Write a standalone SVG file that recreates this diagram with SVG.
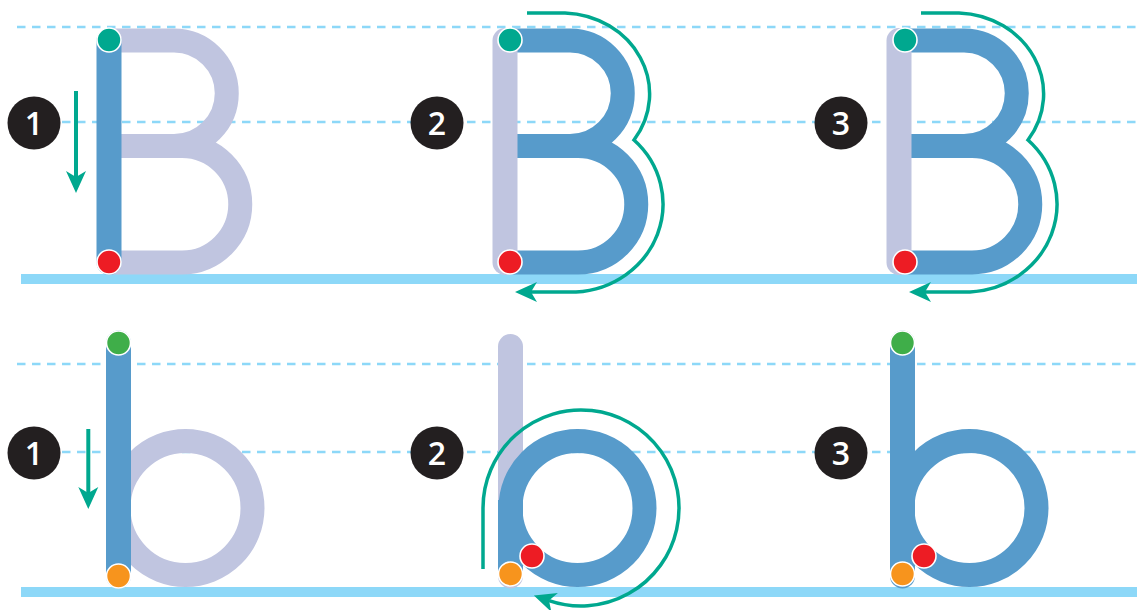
<svg xmlns="http://www.w3.org/2000/svg" width="1137" height="610" viewBox="0 0 1137 610">
<style>
.dash{stroke:#8DD8F8;stroke-width:2.7;stroke-dasharray:8.5 6.5;fill:none}
.base{fill:#8DD8F8}
.lav{stroke:#C0C5E0;fill:none;stroke-width:24}
.blu{stroke:#579BCB;fill:none;stroke-width:24}
.stem{stroke-width:25;stroke-linecap:round}
.arr{stroke:#00A88F;fill:none;stroke-width:3.5;marker-end:url(#ah)}
.arrs{stroke:#00A88F;fill:none;stroke-width:4;marker-end:url(#ah)}
.dot{stroke:#fff;stroke-width:1.6}
.teal{fill:#00A88F}.grn{fill:#3FAE49}.red{fill:#ED1C24}.org{fill:#F7941D}
.badge circle{fill:#231F20}
.badge text{fill:#fff;font-family:"Open Sans","Liberation Sans",sans-serif;font-weight:600;font-size:32px;text-anchor:middle}
</style>
<defs>
<marker id="ah" markerUnits="userSpaceOnUse" markerWidth="24" markerHeight="22" refX="6" refY="10" orient="auto" overflow="visible">
<path d="M0,0 L22,10 L0,20 L6,10 Z" fill="#00A88F"/>
</marker>
<path id="bowls" d="M109,40.5 H174 A52.75,52.75 0 0 1 174,146 H109 M109,146 H182 A58.25,58.25 0 0 1 182,262.5 H109"/>
</defs>

<g id="guides">
<line class="dash" x1="17" y1="27" x2="1137" y2="27"/>
<line class="dash" x1="17" y1="122" x2="1137" y2="122"/>
<rect class="base" x="21" y="274" width="1116" height="10"/>
<line class="dash" x1="17" y1="364" x2="1137" y2="364"/>
<line class="dash" x1="17" y1="452" x2="1137" y2="452"/>
<rect class="base" x="21" y="587" width="1116" height="10"/>
</g>

<g id="B1">
<use href="#bowls" class="lav"/>
<line class="blu stem" x1="109" y1="40.5" x2="109" y2="262.5"/>
<circle class="dot teal" cx="109" cy="40" r="12"/>
<circle class="dot red" cx="109" cy="262" r="12"/>
</g>

<g id="B2">
<use href="#bowls" class="blu" transform="translate(396,0)"/>
<line class="lav stem" x1="505" y1="40.5" x2="505" y2="262.5"/>
<circle class="dot teal" cx="510" cy="40" r="12"/>
<circle class="dot red" cx="510" cy="262" r="12"/>
</g>

<g id="B3">
<use href="#bowls" class="blu" transform="translate(790,0)"/>
<line class="lav stem" x1="899" y1="40.5" x2="899" y2="262.5"/>
<circle class="dot teal" cx="905" cy="40" r="12"/>
<circle class="dot red" cx="905" cy="262" r="12"/>
</g>

<g id="b1">
<circle class="lav" cx="185.5" cy="508" r="67"/>
<line class="blu stem" x1="118.5" y1="343" x2="118.5" y2="576"/>
<circle class="dot grn" cx="118.5" cy="343" r="12"/>
<circle class="dot org" cx="118.5" cy="576" r="12"/>
</g>

<g id="b2">
<line class="lav stem" x1="510.5" y1="346.5" x2="510.5" y2="576"/>
<circle class="blu" cx="577.5" cy="508" r="67"/>
<path class="blu" d="M510.5,576 V500" style="stroke-width:25"/>
<circle class="dot red" cx="532" cy="556" r="12"/>
<circle class="dot org" cx="510.5" cy="574" r="12"/>
</g>

<g id="b3">
<circle class="blu" cx="969.5" cy="508" r="67"/>
<line class="blu stem" x1="902.5" y1="343" x2="902.5" y2="576"/>
<circle class="dot grn" cx="902.5" cy="343" r="12"/>
<circle class="dot red" cx="924" cy="556" r="12"/>
<circle class="dot org" cx="902.5" cy="574" r="12"/>
</g>

<g id="connectors">
<path class="arrs" d="M76,91 V177"/>
<path class="arr" d="M527,13 H565 A88,81 0 0 1 634,140 A92,88 0 0 1 576,292 H531"/>
<path class="arr" d="M921,13 H959 A88,81 0 0 1 1028,140 A92,88 0 0 1 970,292 H925"/>
<path class="arrs" d="M88.3,429 V493"/>
<path class="arr" d="M483,569 V508 A98,98 0 1 1 549,600.6"/>
</g>

<g id="badge-B1" class="badge"><circle cx="34" cy="123" r="26.5"/><text x="34" y="135">1</text></g>
<g id="badge-B2" class="badge"><circle cx="437" cy="123" r="26.5"/><text x="437" y="135">2</text></g>
<g id="badge-B3" class="badge"><circle cx="841" cy="123" r="26.5"/><text x="841" y="135">3</text></g>
<g id="badge-b1" class="badge"><circle cx="34" cy="453" r="26.5"/><text x="34" y="465">1</text></g>
<g id="badge-b2" class="badge"><circle cx="437" cy="453" r="26.5"/><text x="437" y="465">2</text></g>
<g id="badge-b3" class="badge"><circle cx="841" cy="453" r="26.5"/><text x="841" y="465">3</text></g>
</svg>
